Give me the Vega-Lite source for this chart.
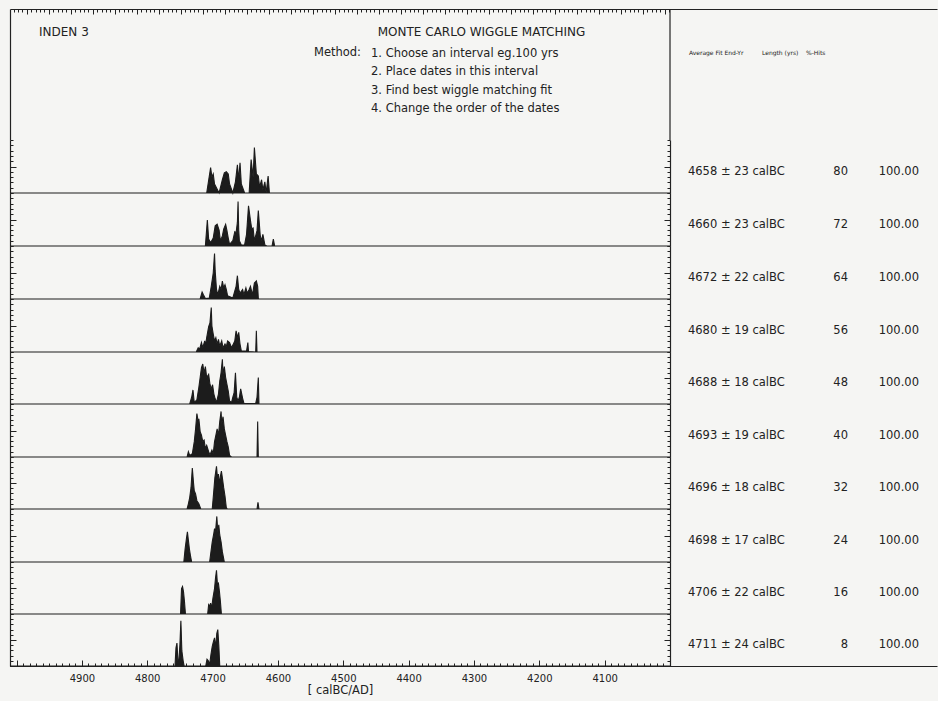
{
  "$schema": "https://vega.github.io/schema/vega-lite/v6.json",
  "background": "#f5f5f3",
  "padding": {"left": 7, "top": 8, "right": 2, "bottom": 5},
  "bounds": "flush",
  "spacing": 0,
  "datasets": {
    "dens": [
      {"run":1,"year":5010,"p":0},{"run":1,"year":4709,"p":0},{"run":1,"year":4703,"p":0.48},{"run":1,"year":4701,"p":0.3},{"run":1,"year":4699,"p":0.36},{"run":1,"year":4697,"p":0.17},{"run":1,"year":4690,"p":0},{"run":1,"year":4685,"p":0.25},{"run":1,"year":4682,"p":0.38},{"run":1,"year":4679,"p":0.4},{"run":1,"year":4676,"p":0.36},{"run":1,"year":4674,"p":0.17},{"run":1,"year":4669,"p":0},{"run":1,"year":4665,"p":0.21},{"run":1,"year":4662,"p":0.53},{"run":1,"year":4660,"p":0.25},{"run":1,"year":4658,"p":0.57},{"run":1,"year":4656,"p":0.17},{"run":1,"year":4651,"p":0},{"run":1,"year":4644,"p":0},{"run":1,"year":4641,"p":0.63},{"run":1,"year":4638,"p":0.3},{"run":1,"year":4636,"p":0.86},{"run":1,"year":4633,"p":0.36},{"run":1,"year":4630,"p":0.32},{"run":1,"year":4628,"p":0.11},{"run":1,"year":4625,"p":0.25},{"run":1,"year":4623,"p":0.06},{"run":1,"year":4620,"p":0.21},{"run":1,"year":4618,"p":0},{"run":1,"year":4615,"p":0.32},{"run":1,"year":4613,"p":0},{"run":1,"year":4000,"p":0},
      {"run":2,"year":5010,"p":0},{"run":2,"year":4711,"p":0},{"run":2,"year":4708,"p":0.49},{"run":2,"year":4706,"p":0.13},{"run":2,"year":4703,"p":0.06},{"run":2,"year":4699,"p":0.15},{"run":2,"year":4696,"p":0.38},{"run":2,"year":4693,"p":0.41},{"run":2,"year":4690,"p":0.3},{"run":2,"year":4688,"p":0.1},{"run":2,"year":4685,"p":0.19},{"run":2,"year":4683,"p":0.32},{"run":2,"year":4680,"p":0.41},{"run":2,"year":4678,"p":0.29},{"run":2,"year":4676,"p":0.15},{"run":2,"year":4674,"p":0.03},{"run":2,"year":4669,"p":0.1},{"run":2,"year":4666,"p":0.27},{"run":2,"year":4664,"p":0.25},{"run":2,"year":4662,"p":0.45},{"run":2,"year":4661,"p":0.84},{"run":2,"year":4660,"p":0.3},{"run":2,"year":4659,"p":0.1},{"run":2,"year":4656,"p":0.02},{"run":2,"year":4651,"p":0.02},{"run":2,"year":4648,"p":0.22},{"run":2,"year":4645,"p":0.76},{"run":2,"year":4642,"p":0.48},{"run":2,"year":4640,"p":0.32},{"run":2,"year":4638,"p":0.34},{"run":2,"year":4636,"p":0.1},{"run":2,"year":4632,"p":0.29},{"run":2,"year":4630,"p":0.67},{"run":2,"year":4627,"p":0.19},{"run":2,"year":4625,"p":0.1},{"run":2,"year":4623,"p":0.22},{"run":2,"year":4620,"p":0.02},{"run":2,"year":4617,"p":0},{"run":2,"year":4609,"p":0},{"run":2,"year":4607,"p":0.13},{"run":2,"year":4605,"p":0},{"run":2,"year":4000,"p":0},
      {"run":3,"year":5010,"p":0},{"run":3,"year":4719,"p":0},{"run":3,"year":4716,"p":0.13},{"run":3,"year":4714,"p":0.08},{"run":3,"year":4711,"p":0.01},{"run":3,"year":4705,"p":0.02},{"run":3,"year":4702,"p":0.24},{"run":3,"year":4699,"p":0.49},{"run":3,"year":4697,"p":0.86},{"run":3,"year":4696,"p":0.53},{"run":3,"year":4694,"p":0.18},{"run":3,"year":4692,"p":0.08},{"run":3,"year":4689,"p":0.24},{"run":3,"year":4687,"p":0.18},{"run":3,"year":4685,"p":0.34},{"run":3,"year":4683,"p":0.21},{"run":3,"year":4681,"p":0.27},{"run":3,"year":4679,"p":0.18},{"run":3,"year":4677,"p":0.06},{"run":3,"year":4669,"p":0.02},{"run":3,"year":4664,"p":0.24},{"run":3,"year":4662,"p":0.44},{"run":3,"year":4660,"p":0.18},{"run":3,"year":4658,"p":0.11},{"run":3,"year":4654,"p":0.18},{"run":3,"year":4652,"p":0.08},{"run":3,"year":4649,"p":0.21},{"run":3,"year":4647,"p":0.11},{"run":3,"year":4644,"p":0.18},{"run":3,"year":4642,"p":0.24},{"run":3,"year":4639,"p":0.08},{"run":3,"year":4636,"p":0.3},{"run":3,"year":4633,"p":0.34},{"run":3,"year":4631,"p":0.24},{"run":3,"year":4630,"p":0.01},{"run":3,"year":4629,"p":0},{"run":3,"year":4000,"p":0},
      {"run":4,"year":5010,"p":0},{"run":4,"year":4725,"p":0},{"run":4,"year":4722,"p":0.08},{"run":4,"year":4720,"p":0.05},{"run":4,"year":4717,"p":0.18},{"run":4,"year":4715,"p":0.08},{"run":4,"year":4712,"p":0.21},{"run":4,"year":4711,"p":0.11},{"run":4,"year":4709,"p":0.27},{"run":4,"year":4706,"p":0.48},{"run":4,"year":4704,"p":0.55},{"run":4,"year":4702,"p":0.84},{"run":4,"year":4701,"p":0.49},{"run":4,"year":4699,"p":0.34},{"run":4,"year":4697,"p":0.21},{"run":4,"year":4695,"p":0.27},{"run":4,"year":4693,"p":0.15},{"run":4,"year":4691,"p":0.24},{"run":4,"year":4689,"p":0.11},{"run":4,"year":4686,"p":0.21},{"run":4,"year":4684,"p":0.08},{"run":4,"year":4681,"p":0.15},{"run":4,"year":4679,"p":0.1},{"run":4,"year":4677,"p":0.21},{"run":4,"year":4674,"p":0.18},{"run":4,"year":4671,"p":0.08},{"run":4,"year":4669,"p":0.13},{"run":4,"year":4666,"p":0.21},{"run":4,"year":4664,"p":0.4},{"run":4,"year":4662,"p":0.27},{"run":4,"year":4660,"p":0.37},{"run":4,"year":4658,"p":0.15},{"run":4,"year":4656,"p":0.02},{"run":4,"year":4648,"p":0.02},{"run":4,"year":4646,"p":0.18},{"run":4,"year":4645,"p":0.01},{"run":4,"year":4634,"p":0},{"run":4,"year":4633,"p":0.4},{"run":4,"year":4632,"p":0},{"run":4,"year":4000,"p":0},
      {"run":5,"year":5010,"p":0},{"run":5,"year":4735,"p":0},{"run":5,"year":4732,"p":0.13},{"run":5,"year":4730,"p":0.27},{"run":5,"year":4728,"p":0.03},{"run":5,"year":4724,"p":0.08},{"run":5,"year":4721,"p":0.32},{"run":5,"year":4719,"p":0.51},{"run":5,"year":4717,"p":0.7},{"run":5,"year":4715,"p":0.77},{"run":5,"year":4713,"p":0.6},{"run":5,"year":4711,"p":0.72},{"run":5,"year":4709,"p":0.51},{"run":5,"year":4706,"p":0.57},{"run":5,"year":4704,"p":0.38},{"run":5,"year":4702,"p":0.29},{"run":5,"year":4700,"p":0.37},{"run":5,"year":4698,"p":0.19},{"run":5,"year":4696,"p":0.1},{"run":5,"year":4694,"p":0.03},{"run":5,"year":4691,"p":0.19},{"run":5,"year":4689,"p":0.44},{"run":5,"year":4687,"p":0.6},{"run":5,"year":4685,"p":0.86},{"run":5,"year":4684,"p":0.57},{"run":5,"year":4682,"p":0.72},{"run":5,"year":4680,"p":0.51},{"run":5,"year":4678,"p":0.38},{"run":5,"year":4676,"p":0.25},{"run":5,"year":4674,"p":0.06},{"run":5,"year":4671,"p":0.03},{"run":5,"year":4669,"p":0.13},{"run":5,"year":4667,"p":0.22},{"run":5,"year":4665,"p":0.6},{"run":5,"year":4663,"p":0.13},{"run":5,"year":4661,"p":0.06},{"run":5,"year":4659,"p":0.13},{"run":5,"year":4657,"p":0.29},{"run":5,"year":4654,"p":0.11},{"run":5,"year":4652,"p":0.01},{"run":5,"year":4634,"p":0.01},{"run":5,"year":4632,"p":0.13},{"run":5,"year":4630,"p":0.51},{"run":5,"year":4629,"p":0},{"run":5,"year":4000,"p":0},
      {"run":6,"year":5010,"p":0},{"run":6,"year":4739,"p":0},{"run":6,"year":4737,"p":0.1},{"run":6,"year":4735,"p":0.03},{"run":6,"year":4731,"p":0.06},{"run":6,"year":4728,"p":0.29},{"run":6,"year":4726,"p":0.53},{"run":6,"year":4724,"p":0.82},{"run":6,"year":4722,"p":0.67},{"run":6,"year":4721,"p":0.72},{"run":6,"year":4719,"p":0.48},{"run":6,"year":4717,"p":0.41},{"run":6,"year":4715,"p":0.29},{"run":6,"year":4713,"p":0.32},{"run":6,"year":4711,"p":0.16},{"run":6,"year":4709,"p":0.22},{"run":6,"year":4706,"p":0.1},{"run":6,"year":4704,"p":0.04},{"run":6,"year":4701,"p":0.13},{"run":6,"year":4699,"p":0.06},{"run":6,"year":4697,"p":0.29},{"run":6,"year":4695,"p":0.41},{"run":6,"year":4693,"p":0.53},{"run":6,"year":4691,"p":0.41},{"run":6,"year":4689,"p":0.67},{"run":6,"year":4687,"p":0.86},{"run":6,"year":4686,"p":0.63},{"run":6,"year":4684,"p":0.76},{"run":6,"year":4682,"p":0.53},{"run":6,"year":4680,"p":0.41},{"run":6,"year":4678,"p":0.29},{"run":6,"year":4676,"p":0.19},{"run":6,"year":4674,"p":0.03},{"run":6,"year":4671,"p":0},{"run":6,"year":4632,"p":0},{"run":6,"year":4631,"p":0.67},{"run":6,"year":4630,"p":0},{"run":6,"year":4000,"p":0},
      {"run":7,"year":5010,"p":0},{"run":7,"year":4739,"p":0},{"run":7,"year":4737,"p":0.1},{"run":7,"year":4735,"p":0.22},{"run":7,"year":4733,"p":0.41},{"run":7,"year":4731,"p":0.79},{"run":7,"year":4729,"p":0.48},{"run":7,"year":4728,"p":0.35},{"run":7,"year":4726,"p":0.29},{"run":7,"year":4724,"p":0.16},{"run":7,"year":4721,"p":0.1},{"run":7,"year":4718,"p":0},{"run":7,"year":4700.5,"p":0},{"run":7,"year":4698.5,"p":0.29},{"run":7,"year":4696.5,"p":0.6},{"run":7,"year":4694,"p":0.82},{"run":7,"year":4692.5,"p":0.6},{"run":7,"year":4691,"p":0.67},{"run":7,"year":4689.5,"p":0.48},{"run":7,"year":4688,"p":0.63},{"run":7,"year":4686.5,"p":0.73},{"run":7,"year":4685,"p":0.6},{"run":7,"year":4683,"p":0.41},{"run":7,"year":4681,"p":0.25},{"run":7,"year":4679,"p":0.03},{"run":7,"year":4677.5,"p":0},{"run":7,"year":4632,"p":0},{"run":7,"year":4630.5,"p":0.13},{"run":7,"year":4629,"p":0},{"run":7,"year":4000,"p":0},
      {"run":8,"year":5010,"p":0},{"run":8,"year":4744,"p":0},{"run":8,"year":4742,"p":0.25},{"run":8,"year":4740,"p":0.44},{"run":8,"year":4738.5,"p":0.57},{"run":8,"year":4737,"p":0.41},{"run":8,"year":4735.5,"p":0.25},{"run":8,"year":4734,"p":0.13},{"run":8,"year":4732,"p":0},{"run":8,"year":4704.5,"p":0},{"run":8,"year":4702.5,"p":0.19},{"run":8,"year":4700.5,"p":0.38},{"run":8,"year":4698.5,"p":0.51},{"run":8,"year":4697,"p":0.63},{"run":8,"year":4695.5,"p":0.57},{"run":8,"year":4693.5,"p":0.86},{"run":8,"year":4692,"p":0.57},{"run":8,"year":4690.5,"p":0.7},{"run":8,"year":4689,"p":0.51},{"run":8,"year":4687,"p":0.38},{"run":8,"year":4685,"p":0.19},{"run":8,"year":4682,"p":0},{"run":8,"year":4000,"p":0},
      {"run":9,"year":5010,"p":0},{"run":9,"year":4749,"p":0},{"run":9,"year":4747.5,"p":0.49},{"run":9,"year":4746,"p":0.53},{"run":9,"year":4744.5,"p":0.43},{"run":9,"year":4743,"p":0.24},{"run":9,"year":4741.5,"p":0},{"run":9,"year":4707.5,"p":0},{"run":9,"year":4706,"p":0.18},{"run":9,"year":4704.5,"p":0.15},{"run":9,"year":4703,"p":0.21},{"run":9,"year":4701.5,"p":0.11},{"run":9,"year":4699.5,"p":0.3},{"run":9,"year":4697,"p":0.49},{"run":9,"year":4695.5,"p":0.69},{"run":9,"year":4694,"p":0.84},{"run":9,"year":4692.5,"p":0.56},{"run":9,"year":4691,"p":0.59},{"run":9,"year":4689.5,"p":0.43},{"run":9,"year":4688,"p":0.24},{"run":9,"year":4686.5,"p":0},{"run":9,"year":4000,"p":0},
      {"run":10,"year":5010,"p":0},{"run":10,"year":4757.5,"p":0},{"run":10,"year":4756,"p":0.35},{"run":10,"year":4754.5,"p":0.44},{"run":10,"year":4753,"p":0.1},{"run":10,"year":4751.5,"p":0.1},{"run":10,"year":4750,"p":0.41},{"run":10,"year":4748.5,"p":0.87},{"run":10,"year":4747,"p":0.29},{"run":10,"year":4745,"p":0.1},{"run":10,"year":4743.5,"p":0},{"run":10,"year":4710.5,"p":0},{"run":10,"year":4708.5,"p":0.13},{"run":10,"year":4706.5,"p":0.1},{"run":10,"year":4704.5,"p":0.03},{"run":10,"year":4702.5,"p":0.22},{"run":10,"year":4700.5,"p":0.38},{"run":10,"year":4698.5,"p":0.48},{"run":10,"year":4697,"p":0.54},{"run":10,"year":4695.5,"p":0.35},{"run":10,"year":4693.5,"p":0.63},{"run":10,"year":4692,"p":0.7},{"run":10,"year":4690.5,"p":0.41},{"run":10,"year":4689,"p":0},{"run":10,"year":4000,"p":0}
    ],
    "table": [
      {"row":1,"fit":"4658 ± 23 calBC","length":80,"hits":100},
      {"row":2,"fit":"4660 ± 23 calBC","length":72,"hits":100},
      {"row":3,"fit":"4672 ± 22 calBC","length":64,"hits":100},
      {"row":4,"fit":"4680 ± 19 calBC","length":56,"hits":100},
      {"row":5,"fit":"4688 ± 18 calBC","length":48,"hits":100},
      {"row":6,"fit":"4693 ± 19 calBC","length":40,"hits":100},
      {"row":7,"fit":"4696 ± 18 calBC","length":32,"hits":100},
      {"row":8,"fit":"4698 ± 17 calBC","length":24,"hits":100},
      {"row":9,"fit":"4706 ± 22 calBC","length":16,"hits":100},
      {"row":10,"fit":"4711 ± 24 calBC","length":8,"hits":100}
    ],
    "frame": [{"hx": 100, "hy": 15}]
  },
  "vconcat": [
    {
      "width": 927, "height": 131,
      "resolve": {"axis": {"x": "independent", "y": "independent"}},
      "layer": [
        {"data": {"name": "frame"}, "mark": {"type": "point", "opacity": 0},
         "encoding": {
           "x": {"field": "hx", "type": "quantitative", "scale": {"domain": [1.2, 211.88], "nice": false, "zero": false},
                 "axis": {"orient": "top", "labels": false, "title": null, "grid": false, "domain": true,
                          "values": [2,3,4,5,6,7,8,9,10,11,12,13,14,15,16,17,18,19,20,21,22,23,24,25,26,27,28,29,30,31,32,33,34,35,36,37,38,39,40,41,42,43,44,45,46,47,48,49,50,51,52,53,54,55,56,57,58,59,60,61,62,63,64,65,66,67,68,69,70,71,72,73,74,75,76,77,78,79,80,81,82,83,84,85,86,87,88,89,90,91,92,93,94,95,96,97,98,99,100,101,102,103,104,105,106,107,108,109,110,111,112,113,114,115,116,117,118,119,120,121,122,123,124,125,126,127,128,129,130,131,132,133,134,135,136,137,138,139,140,141,142,143,144,145,146,147,148,149,150,151],
                          "tickSize": {"condition": {"test": "datum.value % 5 === 0", "value": -5}, "value": -3}}},
           "y": {"field": "hy", "type": "quantitative", "scale": {"domain": [0, 30], "reverse": true, "nice": false, "zero": false},
                 "axis": {"orient": "left", "ticks": false, "labels": false, "title": null, "grid": false, "domain": true}}
         }},
        {"data": {"values": [{}]}, "mark": {"type": "rule", "color": "#222", "strokeWidth": 1.2},
         "encoding": {"x": {"datum": 151.2, "type": "quantitative", "axis": null}}},
        {"data": {"values": [{}]}, "mark": {"type": "text", "align": "left", "baseline": "middle", "fontSize": 12},
         "encoding": {"x": {"datum": 7.79, "type": "quantitative", "axis": null}, "y": {"datum": 5.27, "type": "quantitative", "axis": null}, "text": {"value": "INDEN 3"}}},
        {"data": {"values": [{}]}, "mark": {"type": "text", "align": "center", "baseline": "middle", "fontSize": 12},
         "encoding": {"x": {"datum": 108.36, "type": "quantitative", "axis": null}, "y": {"datum": 5.27, "type": "quantitative", "axis": null}, "text": {"value": "MONTE CARLO WIGGLE MATCHING"}}},
        {"data": {"values": [{}]}, "mark": {"type": "text", "align": "right", "baseline": "middle", "fontSize": 11.5},
         "encoding": {"x": {"datum": 80.97, "type": "quantitative", "axis": null}, "y": {"datum": 10.0, "type": "quantitative", "axis": null}, "text": {"value": "Method:"}}},
        {"data": {"values": [{}]}, "mark": {"type": "text", "align": "left", "baseline": "top", "fontSize": 11.5, "lineHeight": 18.5},
         "encoding": {"x": {"datum": 83.25, "type": "quantitative", "axis": null}, "y": {"datum": 8.86, "type": "quantitative", "axis": null},
                      "text": {"value": ["1. Choose an interval eg.100 yrs", "2. Place dates in this interval", "3. Find best wiggle matching fit", "4. Change the order of the dates"]}}},
        {"data": {"values": [{}]}, "mark": {"type": "text", "align": "left", "baseline": "middle", "fontSize": 6},
         "encoding": {"x": {"datum": 155.5, "type": "quantitative", "axis": null}, "y": {"datum": 10.08, "type": "quantitative", "axis": null}, "text": {"value": "Average Fit End-Yr"}}},
        {"data": {"values": [{}]}, "mark": {"type": "text", "align": "left", "baseline": "middle", "fontSize": 6},
         "encoding": {"x": {"datum": 172.1, "type": "quantitative", "axis": null}, "y": {"datum": 10.08, "type": "quantitative", "axis": null}, "text": {"value": "Length (yrs)"}}},
        {"data": {"values": [{}]}, "mark": {"type": "text", "align": "left", "baseline": "middle", "fontSize": 6},
         "encoding": {"x": {"datum": 182.1, "type": "quantitative", "axis": null}, "y": {"datum": 10.08, "type": "quantitative", "axis": null}, "text": {"value": "%-Hits"}}}
      ]
    },
    {"width": 927, "height": 53, "resolve": {"axis": {"y": "independent"}}, "layer": [
      {"data": {"name": "dens"}, "transform": [{"filter": "datum.run === 1"}], "mark": {"type": "area", "fill": "#1c1c1c", "stroke": "#1c1c1c", "strokeWidth": 1.1},
       "encoding": {"x": {"field": "year", "type": "quantitative", "scale": {"domain": [3591.4, 5010], "reverse": true, "nice": false, "zero": false}, "axis": null},
                    "y": {"field": "p", "type": "quantitative", "stack": null, "scale": {"domain": [0, 1], "nice": false, "zero": false},
                          "axis": {"orient": "left", "values": [0,0.1,0.2,0.3,0.4,0.5,0.6,0.7,0.8,0.9,1], "tickSize": {"condition": {"test": "datum.value === 0.5", "value": -6}, "value": -3}, "labels": false, "title": null, "grid": false, "domain": true}}}},
      {"data": {"name": "dens"}, "transform": [{"filter": "datum.run === 1"}], "mark": {"type": "area", "opacity": 0},
       "encoding": {"x": {"field": "year", "type": "quantitative", "axis": null},
                    "y": {"field": "p", "type": "quantitative", "stack": null,
                          "axis": {"orient": "right", "offset": -267, "values": [0,0.1,0.2,0.3,0.4,0.5,0.6,0.7,0.8,0.9,1], "tickSize": {"condition": {"test": "datum.value === 0.5", "value": -6}, "value": -3}, "labels": false, "title": null, "grid": false, "domain": true}}}},
      {"data": {"name": "table"}, "transform": [{"filter": "datum.row === 1"}], "mark": {"type": "text", "align": "left", "baseline": "middle", "dy": 5, "fontSize": 11.5},
       "encoding": {"x": {"datum": 3972.5, "type": "quantitative", "axis": null}, "y": {"datum": 0.5, "type": "quantitative", "axis": null}, "text": {"field": "fit"}}},
      {"data": {"name": "table"}, "transform": [{"filter": "datum.row === 1"}], "mark": {"type": "text", "align": "right", "baseline": "middle", "dy": 5, "fontSize": 11.5},
       "encoding": {"x": {"datum": 3727.6, "type": "quantitative", "axis": null}, "y": {"datum": 0.5, "type": "quantitative", "axis": null}, "text": {"field": "length", "type": "quantitative", "format": "d"}}},
      {"data": {"name": "table"}, "transform": [{"filter": "datum.row === 1"}], "mark": {"type": "text", "align": "right", "baseline": "middle", "dy": 5, "fontSize": 11.5},
       "encoding": {"x": {"datum": 3619.0, "type": "quantitative", "axis": null}, "y": {"datum": 0.5, "type": "quantitative", "axis": null}, "text": {"field": "hits", "type": "quantitative", "format": ".2f"}}}
    ]},
    {"width": 927, "height": 53, "resolve": {"axis": {"y": "independent"}}, "layer": [
      {"data": {"name": "dens"}, "transform": [{"filter": "datum.run === 2"}], "mark": {"type": "area", "fill": "#1c1c1c", "stroke": "#1c1c1c", "strokeWidth": 1.1},
       "encoding": {"x": {"field": "year", "type": "quantitative", "scale": {"domain": [3591.4, 5010], "reverse": true, "nice": false, "zero": false}, "axis": null},
                    "y": {"field": "p", "type": "quantitative", "stack": null, "scale": {"domain": [0, 1], "nice": false, "zero": false},
                          "axis": {"orient": "left", "values": [0,0.1,0.2,0.3,0.4,0.5,0.6,0.7,0.8,0.9,1], "tickSize": {"condition": {"test": "datum.value === 0.5", "value": -6}, "value": -3}, "labels": false, "title": null, "grid": false, "domain": true}}}},
      {"data": {"name": "dens"}, "transform": [{"filter": "datum.run === 2"}], "mark": {"type": "area", "opacity": 0},
       "encoding": {"x": {"field": "year", "type": "quantitative", "axis": null},
                    "y": {"field": "p", "type": "quantitative", "stack": null,
                          "axis": {"orient": "right", "offset": -267, "values": [0,0.1,0.2,0.3,0.4,0.5,0.6,0.7,0.8,0.9,1], "tickSize": {"condition": {"test": "datum.value === 0.5", "value": -6}, "value": -3}, "labels": false, "title": null, "grid": false, "domain": true}}}},
      {"data": {"name": "table"}, "transform": [{"filter": "datum.row === 2"}], "mark": {"type": "text", "align": "left", "baseline": "middle", "dy": 5, "fontSize": 11.5},
       "encoding": {"x": {"datum": 3972.5, "type": "quantitative", "axis": null}, "y": {"datum": 0.5, "type": "quantitative", "axis": null}, "text": {"field": "fit"}}},
      {"data": {"name": "table"}, "transform": [{"filter": "datum.row === 2"}], "mark": {"type": "text", "align": "right", "baseline": "middle", "dy": 5, "fontSize": 11.5},
       "encoding": {"x": {"datum": 3727.6, "type": "quantitative", "axis": null}, "y": {"datum": 0.5, "type": "quantitative", "axis": null}, "text": {"field": "length", "type": "quantitative", "format": "d"}}},
      {"data": {"name": "table"}, "transform": [{"filter": "datum.row === 2"}], "mark": {"type": "text", "align": "right", "baseline": "middle", "dy": 5, "fontSize": 11.5},
       "encoding": {"x": {"datum": 3619.0, "type": "quantitative", "axis": null}, "y": {"datum": 0.5, "type": "quantitative", "axis": null}, "text": {"field": "hits", "type": "quantitative", "format": ".2f"}}}
    ]},
    {"width": 927, "height": 53, "resolve": {"axis": {"y": "independent"}}, "layer": [
      {"data": {"name": "dens"}, "transform": [{"filter": "datum.run === 3"}], "mark": {"type": "area", "fill": "#1c1c1c", "stroke": "#1c1c1c", "strokeWidth": 1.1},
       "encoding": {"x": {"field": "year", "type": "quantitative", "scale": {"domain": [3591.4, 5010], "reverse": true, "nice": false, "zero": false}, "axis": null},
                    "y": {"field": "p", "type": "quantitative", "stack": null, "scale": {"domain": [0, 1], "nice": false, "zero": false},
                          "axis": {"orient": "left", "values": [0,0.1,0.2,0.3,0.4,0.5,0.6,0.7,0.8,0.9,1], "tickSize": {"condition": {"test": "datum.value === 0.5", "value": -6}, "value": -3}, "labels": false, "title": null, "grid": false, "domain": true}}}},
      {"data": {"name": "dens"}, "transform": [{"filter": "datum.run === 3"}], "mark": {"type": "area", "opacity": 0},
       "encoding": {"x": {"field": "year", "type": "quantitative", "axis": null},
                    "y": {"field": "p", "type": "quantitative", "stack": null,
                          "axis": {"orient": "right", "offset": -267, "values": [0,0.1,0.2,0.3,0.4,0.5,0.6,0.7,0.8,0.9,1], "tickSize": {"condition": {"test": "datum.value === 0.5", "value": -6}, "value": -3}, "labels": false, "title": null, "grid": false, "domain": true}}}},
      {"data": {"name": "table"}, "transform": [{"filter": "datum.row === 3"}], "mark": {"type": "text", "align": "left", "baseline": "middle", "dy": 5, "fontSize": 11.5},
       "encoding": {"x": {"datum": 3972.5, "type": "quantitative", "axis": null}, "y": {"datum": 0.5, "type": "quantitative", "axis": null}, "text": {"field": "fit"}}},
      {"data": {"name": "table"}, "transform": [{"filter": "datum.row === 3"}], "mark": {"type": "text", "align": "right", "baseline": "middle", "dy": 5, "fontSize": 11.5},
       "encoding": {"x": {"datum": 3727.6, "type": "quantitative", "axis": null}, "y": {"datum": 0.5, "type": "quantitative", "axis": null}, "text": {"field": "length", "type": "quantitative", "format": "d"}}},
      {"data": {"name": "table"}, "transform": [{"filter": "datum.row === 3"}], "mark": {"type": "text", "align": "right", "baseline": "middle", "dy": 5, "fontSize": 11.5},
       "encoding": {"x": {"datum": 3619.0, "type": "quantitative", "axis": null}, "y": {"datum": 0.5, "type": "quantitative", "axis": null}, "text": {"field": "hits", "type": "quantitative", "format": ".2f"}}}
    ]},
    {"width": 927, "height": 53, "resolve": {"axis": {"y": "independent"}}, "layer": [
      {"data": {"name": "dens"}, "transform": [{"filter": "datum.run === 4"}], "mark": {"type": "area", "fill": "#1c1c1c", "stroke": "#1c1c1c", "strokeWidth": 1.1},
       "encoding": {"x": {"field": "year", "type": "quantitative", "scale": {"domain": [3591.4, 5010], "reverse": true, "nice": false, "zero": false}, "axis": null},
                    "y": {"field": "p", "type": "quantitative", "stack": null, "scale": {"domain": [0, 1], "nice": false, "zero": false},
                          "axis": {"orient": "left", "values": [0,0.1,0.2,0.3,0.4,0.5,0.6,0.7,0.8,0.9,1], "tickSize": {"condition": {"test": "datum.value === 0.5", "value": -6}, "value": -3}, "labels": false, "title": null, "grid": false, "domain": true}}}},
      {"data": {"name": "dens"}, "transform": [{"filter": "datum.run === 4"}], "mark": {"type": "area", "opacity": 0},
       "encoding": {"x": {"field": "year", "type": "quantitative", "axis": null},
                    "y": {"field": "p", "type": "quantitative", "stack": null,
                          "axis": {"orient": "right", "offset": -267, "values": [0,0.1,0.2,0.3,0.4,0.5,0.6,0.7,0.8,0.9,1], "tickSize": {"condition": {"test": "datum.value === 0.5", "value": -6}, "value": -3}, "labels": false, "title": null, "grid": false, "domain": true}}}},
      {"data": {"name": "table"}, "transform": [{"filter": "datum.row === 4"}], "mark": {"type": "text", "align": "left", "baseline": "middle", "dy": 5, "fontSize": 11.5},
       "encoding": {"x": {"datum": 3972.5, "type": "quantitative", "axis": null}, "y": {"datum": 0.5, "type": "quantitative", "axis": null}, "text": {"field": "fit"}}},
      {"data": {"name": "table"}, "transform": [{"filter": "datum.row === 4"}], "mark": {"type": "text", "align": "right", "baseline": "middle", "dy": 5, "fontSize": 11.5},
       "encoding": {"x": {"datum": 3727.6, "type": "quantitative", "axis": null}, "y": {"datum": 0.5, "type": "quantitative", "axis": null}, "text": {"field": "length", "type": "quantitative", "format": "d"}}},
      {"data": {"name": "table"}, "transform": [{"filter": "datum.row === 4"}], "mark": {"type": "text", "align": "right", "baseline": "middle", "dy": 5, "fontSize": 11.5},
       "encoding": {"x": {"datum": 3619.0, "type": "quantitative", "axis": null}, "y": {"datum": 0.5, "type": "quantitative", "axis": null}, "text": {"field": "hits", "type": "quantitative", "format": ".2f"}}}
    ]},
    {"width": 927, "height": 52, "resolve": {"axis": {"y": "independent"}}, "layer": [
      {"data": {"name": "dens"}, "transform": [{"filter": "datum.run === 5"}], "mark": {"type": "area", "fill": "#1c1c1c", "stroke": "#1c1c1c", "strokeWidth": 1.1},
       "encoding": {"x": {"field": "year", "type": "quantitative", "scale": {"domain": [3591.4, 5010], "reverse": true, "nice": false, "zero": false}, "axis": null},
                    "y": {"field": "p", "type": "quantitative", "stack": null, "scale": {"domain": [0, 1], "nice": false, "zero": false},
                          "axis": {"orient": "left", "values": [0,0.1,0.2,0.3,0.4,0.5,0.6,0.7,0.8,0.9,1], "tickSize": {"condition": {"test": "datum.value === 0.5", "value": -6}, "value": -3}, "labels": false, "title": null, "grid": false, "domain": true}}}},
      {"data": {"name": "dens"}, "transform": [{"filter": "datum.run === 5"}], "mark": {"type": "area", "opacity": 0},
       "encoding": {"x": {"field": "year", "type": "quantitative", "axis": null},
                    "y": {"field": "p", "type": "quantitative", "stack": null,
                          "axis": {"orient": "right", "offset": -267, "values": [0,0.1,0.2,0.3,0.4,0.5,0.6,0.7,0.8,0.9,1], "tickSize": {"condition": {"test": "datum.value === 0.5", "value": -6}, "value": -3}, "labels": false, "title": null, "grid": false, "domain": true}}}},
      {"data": {"name": "table"}, "transform": [{"filter": "datum.row === 5"}], "mark": {"type": "text", "align": "left", "baseline": "middle", "dy": 5, "fontSize": 11.5},
       "encoding": {"x": {"datum": 3972.5, "type": "quantitative", "axis": null}, "y": {"datum": 0.5, "type": "quantitative", "axis": null}, "text": {"field": "fit"}}},
      {"data": {"name": "table"}, "transform": [{"filter": "datum.row === 5"}], "mark": {"type": "text", "align": "right", "baseline": "middle", "dy": 5, "fontSize": 11.5},
       "encoding": {"x": {"datum": 3727.6, "type": "quantitative", "axis": null}, "y": {"datum": 0.5, "type": "quantitative", "axis": null}, "text": {"field": "length", "type": "quantitative", "format": "d"}}},
      {"data": {"name": "table"}, "transform": [{"filter": "datum.row === 5"}], "mark": {"type": "text", "align": "right", "baseline": "middle", "dy": 5, "fontSize": 11.5},
       "encoding": {"x": {"datum": 3619.0, "type": "quantitative", "axis": null}, "y": {"datum": 0.5, "type": "quantitative", "axis": null}, "text": {"field": "hits", "type": "quantitative", "format": ".2f"}}}
    ]},
    {"width": 927, "height": 53, "resolve": {"axis": {"y": "independent"}}, "layer": [
      {"data": {"name": "dens"}, "transform": [{"filter": "datum.run === 6"}], "mark": {"type": "area", "fill": "#1c1c1c", "stroke": "#1c1c1c", "strokeWidth": 1.1},
       "encoding": {"x": {"field": "year", "type": "quantitative", "scale": {"domain": [3591.4, 5010], "reverse": true, "nice": false, "zero": false}, "axis": null},
                    "y": {"field": "p", "type": "quantitative", "stack": null, "scale": {"domain": [0, 1], "nice": false, "zero": false},
                          "axis": {"orient": "left", "values": [0,0.1,0.2,0.3,0.4,0.5,0.6,0.7,0.8,0.9,1], "tickSize": {"condition": {"test": "datum.value === 0.5", "value": -6}, "value": -3}, "labels": false, "title": null, "grid": false, "domain": true}}}},
      {"data": {"name": "dens"}, "transform": [{"filter": "datum.run === 6"}], "mark": {"type": "area", "opacity": 0},
       "encoding": {"x": {"field": "year", "type": "quantitative", "axis": null},
                    "y": {"field": "p", "type": "quantitative", "stack": null,
                          "axis": {"orient": "right", "offset": -267, "values": [0,0.1,0.2,0.3,0.4,0.5,0.6,0.7,0.8,0.9,1], "tickSize": {"condition": {"test": "datum.value === 0.5", "value": -6}, "value": -3}, "labels": false, "title": null, "grid": false, "domain": true}}}},
      {"data": {"name": "table"}, "transform": [{"filter": "datum.row === 6"}], "mark": {"type": "text", "align": "left", "baseline": "middle", "dy": 5, "fontSize": 11.5},
       "encoding": {"x": {"datum": 3972.5, "type": "quantitative", "axis": null}, "y": {"datum": 0.5, "type": "quantitative", "axis": null}, "text": {"field": "fit"}}},
      {"data": {"name": "table"}, "transform": [{"filter": "datum.row === 6"}], "mark": {"type": "text", "align": "right", "baseline": "middle", "dy": 5, "fontSize": 11.5},
       "encoding": {"x": {"datum": 3727.6, "type": "quantitative", "axis": null}, "y": {"datum": 0.5, "type": "quantitative", "axis": null}, "text": {"field": "length", "type": "quantitative", "format": "d"}}},
      {"data": {"name": "table"}, "transform": [{"filter": "datum.row === 6"}], "mark": {"type": "text", "align": "right", "baseline": "middle", "dy": 5, "fontSize": 11.5},
       "encoding": {"x": {"datum": 3619.0, "type": "quantitative", "axis": null}, "y": {"datum": 0.5, "type": "quantitative", "axis": null}, "text": {"field": "hits", "type": "quantitative", "format": ".2f"}}}
    ]},
    {"width": 927, "height": 52, "resolve": {"axis": {"y": "independent"}}, "layer": [
      {"data": {"name": "dens"}, "transform": [{"filter": "datum.run === 7"}], "mark": {"type": "area", "fill": "#1c1c1c", "stroke": "#1c1c1c", "strokeWidth": 1.1},
       "encoding": {"x": {"field": "year", "type": "quantitative", "scale": {"domain": [3591.4, 5010], "reverse": true, "nice": false, "zero": false}, "axis": null},
                    "y": {"field": "p", "type": "quantitative", "stack": null, "scale": {"domain": [0, 1], "nice": false, "zero": false},
                          "axis": {"orient": "left", "values": [0,0.1,0.2,0.3,0.4,0.5,0.6,0.7,0.8,0.9,1], "tickSize": {"condition": {"test": "datum.value === 0.5", "value": -6}, "value": -3}, "labels": false, "title": null, "grid": false, "domain": true}}}},
      {"data": {"name": "dens"}, "transform": [{"filter": "datum.run === 7"}], "mark": {"type": "area", "opacity": 0},
       "encoding": {"x": {"field": "year", "type": "quantitative", "axis": null},
                    "y": {"field": "p", "type": "quantitative", "stack": null,
                          "axis": {"orient": "right", "offset": -267, "values": [0,0.1,0.2,0.3,0.4,0.5,0.6,0.7,0.8,0.9,1], "tickSize": {"condition": {"test": "datum.value === 0.5", "value": -6}, "value": -3}, "labels": false, "title": null, "grid": false, "domain": true}}}},
      {"data": {"name": "table"}, "transform": [{"filter": "datum.row === 7"}], "mark": {"type": "text", "align": "left", "baseline": "middle", "dy": 5, "fontSize": 11.5},
       "encoding": {"x": {"datum": 3972.5, "type": "quantitative", "axis": null}, "y": {"datum": 0.5, "type": "quantitative", "axis": null}, "text": {"field": "fit"}}},
      {"data": {"name": "table"}, "transform": [{"filter": "datum.row === 7"}], "mark": {"type": "text", "align": "right", "baseline": "middle", "dy": 5, "fontSize": 11.5},
       "encoding": {"x": {"datum": 3727.6, "type": "quantitative", "axis": null}, "y": {"datum": 0.5, "type": "quantitative", "axis": null}, "text": {"field": "length", "type": "quantitative", "format": "d"}}},
      {"data": {"name": "table"}, "transform": [{"filter": "datum.row === 7"}], "mark": {"type": "text", "align": "right", "baseline": "middle", "dy": 5, "fontSize": 11.5},
       "encoding": {"x": {"datum": 3619.0, "type": "quantitative", "axis": null}, "y": {"datum": 0.5, "type": "quantitative", "axis": null}, "text": {"field": "hits", "type": "quantitative", "format": ".2f"}}}
    ]},
    {"width": 927, "height": 53, "resolve": {"axis": {"y": "independent"}}, "layer": [
      {"data": {"name": "dens"}, "transform": [{"filter": "datum.run === 8"}], "mark": {"type": "area", "fill": "#1c1c1c", "stroke": "#1c1c1c", "strokeWidth": 1.1},
       "encoding": {"x": {"field": "year", "type": "quantitative", "scale": {"domain": [3591.4, 5010], "reverse": true, "nice": false, "zero": false}, "axis": null},
                    "y": {"field": "p", "type": "quantitative", "stack": null, "scale": {"domain": [0, 1], "nice": false, "zero": false},
                          "axis": {"orient": "left", "values": [0,0.1,0.2,0.3,0.4,0.5,0.6,0.7,0.8,0.9,1], "tickSize": {"condition": {"test": "datum.value === 0.5", "value": -6}, "value": -3}, "labels": false, "title": null, "grid": false, "domain": true}}}},
      {"data": {"name": "dens"}, "transform": [{"filter": "datum.run === 8"}], "mark": {"type": "area", "opacity": 0},
       "encoding": {"x": {"field": "year", "type": "quantitative", "axis": null},
                    "y": {"field": "p", "type": "quantitative", "stack": null,
                          "axis": {"orient": "right", "offset": -267, "values": [0,0.1,0.2,0.3,0.4,0.5,0.6,0.7,0.8,0.9,1], "tickSize": {"condition": {"test": "datum.value === 0.5", "value": -6}, "value": -3}, "labels": false, "title": null, "grid": false, "domain": true}}}},
      {"data": {"name": "table"}, "transform": [{"filter": "datum.row === 8"}], "mark": {"type": "text", "align": "left", "baseline": "middle", "dy": 5, "fontSize": 11.5},
       "encoding": {"x": {"datum": 3972.5, "type": "quantitative", "axis": null}, "y": {"datum": 0.5, "type": "quantitative", "axis": null}, "text": {"field": "fit"}}},
      {"data": {"name": "table"}, "transform": [{"filter": "datum.row === 8"}], "mark": {"type": "text", "align": "right", "baseline": "middle", "dy": 5, "fontSize": 11.5},
       "encoding": {"x": {"datum": 3727.6, "type": "quantitative", "axis": null}, "y": {"datum": 0.5, "type": "quantitative", "axis": null}, "text": {"field": "length", "type": "quantitative", "format": "d"}}},
      {"data": {"name": "table"}, "transform": [{"filter": "datum.row === 8"}], "mark": {"type": "text", "align": "right", "baseline": "middle", "dy": 5, "fontSize": 11.5},
       "encoding": {"x": {"datum": 3619.0, "type": "quantitative", "axis": null}, "y": {"datum": 0.5, "type": "quantitative", "axis": null}, "text": {"field": "hits", "type": "quantitative", "format": ".2f"}}}
    ]},
    {"width": 927, "height": 52, "resolve": {"axis": {"y": "independent"}}, "layer": [
      {"data": {"name": "dens"}, "transform": [{"filter": "datum.run === 9"}], "mark": {"type": "area", "fill": "#1c1c1c", "stroke": "#1c1c1c", "strokeWidth": 1.1},
       "encoding": {"x": {"field": "year", "type": "quantitative", "scale": {"domain": [3591.4, 5010], "reverse": true, "nice": false, "zero": false}, "axis": null},
                    "y": {"field": "p", "type": "quantitative", "stack": null, "scale": {"domain": [0, 1], "nice": false, "zero": false},
                          "axis": {"orient": "left", "values": [0,0.1,0.2,0.3,0.4,0.5,0.6,0.7,0.8,0.9,1], "tickSize": {"condition": {"test": "datum.value === 0.5", "value": -6}, "value": -3}, "labels": false, "title": null, "grid": false, "domain": true}}}},
      {"data": {"name": "dens"}, "transform": [{"filter": "datum.run === 9"}], "mark": {"type": "area", "opacity": 0},
       "encoding": {"x": {"field": "year", "type": "quantitative", "axis": null},
                    "y": {"field": "p", "type": "quantitative", "stack": null,
                          "axis": {"orient": "right", "offset": -267, "values": [0,0.1,0.2,0.3,0.4,0.5,0.6,0.7,0.8,0.9,1], "tickSize": {"condition": {"test": "datum.value === 0.5", "value": -6}, "value": -3}, "labels": false, "title": null, "grid": false, "domain": true}}}},
      {"data": {"name": "table"}, "transform": [{"filter": "datum.row === 9"}], "mark": {"type": "text", "align": "left", "baseline": "middle", "dy": 5, "fontSize": 11.5},
       "encoding": {"x": {"datum": 3972.5, "type": "quantitative", "axis": null}, "y": {"datum": 0.5, "type": "quantitative", "axis": null}, "text": {"field": "fit"}}},
      {"data": {"name": "table"}, "transform": [{"filter": "datum.row === 9"}], "mark": {"type": "text", "align": "right", "baseline": "middle", "dy": 5, "fontSize": 11.5},
       "encoding": {"x": {"datum": 3727.6, "type": "quantitative", "axis": null}, "y": {"datum": 0.5, "type": "quantitative", "axis": null}, "text": {"field": "length", "type": "quantitative", "format": "d"}}},
      {"data": {"name": "table"}, "transform": [{"filter": "datum.row === 9"}], "mark": {"type": "text", "align": "right", "baseline": "middle", "dy": 5, "fontSize": 11.5},
       "encoding": {"x": {"datum": 3619.0, "type": "quantitative", "axis": null}, "y": {"datum": 0.5, "type": "quantitative", "axis": null}, "text": {"field": "hits", "type": "quantitative", "format": ".2f"}}}
    ]},
    {"width": 927, "height": 52, "resolve": {"axis": {"x": "independent", "y": "independent"}}, "layer": [
      {"data": {"name": "dens"}, "transform": [{"filter": "datum.run === 10"}], "mark": {"type": "area", "fill": "#1c1c1c", "stroke": "#1c1c1c", "strokeWidth": 1.1},
       "encoding": {"x": {"field": "year", "type": "quantitative", "scale": {"domain": [3591.4, 5010], "reverse": true, "nice": false, "zero": false},
                          "axis": {"orient": "bottom", "format": "d",
                                   "values": [4000,4010,4020,4030,4040,4050,4060,4070,4080,4090,4100,4110,4120,4130,4140,4150,4160,4170,4180,4190,4200,4210,4220,4230,4240,4250,4260,4270,4280,4290,4300,4310,4320,4330,4340,4350,4360,4370,4380,4390,4400,4410,4420,4430,4440,4450,4460,4470,4480,4490,4500,4510,4520,4530,4540,4550,4560,4570,4580,4590,4600,4610,4620,4630,4640,4650,4660,4670,4680,4690,4700,4710,4720,4730,4740,4750,4760,4770,4780,4790,4800,4810,4820,4830,4840,4850,4860,4870,4880,4890,4900,4910,4920,4930,4940,4950,4960,4970,4980,4990,5000,5010],
                                   "tickSize": {"condition": {"test": "datum.value % 100 === 0", "value": -6}, "value": -3},
                                   "labelExpr": "datum.value % 100 === 0 && datum.value > 4000 && datum.value < 5000 ? datum.label : ''",
                                   "labelOverlap": false, "labelFlush": false, "labelBound": false,
                                   "labelFontSize": 10, "labelPadding": 13,
                                   "title": "[ calBC/AD]", "titleX": 330, "titleAlign": "center", "titleFontSize": 11.5, "titleFontWeight": "normal", "titlePadding": -2,
                                   "grid": false, "domain": true}},
                    "y": {"field": "p", "type": "quantitative", "stack": null, "scale": {"domain": [0, 1], "nice": false, "zero": false},
                          "axis": {"orient": "left", "values": [0,0.1,0.2,0.3,0.4,0.5,0.6,0.7,0.8,0.9,1], "tickSize": {"condition": {"test": "datum.value === 0.5", "value": -6}, "value": -3}, "labels": false, "title": null, "grid": false, "domain": true}}}},
      {"data": {"name": "dens"}, "transform": [{"filter": "datum.run === 10"}], "mark": {"type": "area", "opacity": 0},
       "encoding": {"x": {"field": "year", "type": "quantitative", "axis": null},
                    "y": {"field": "p", "type": "quantitative", "stack": null,
                          "axis": {"orient": "right", "offset": -267, "values": [0,0.1,0.2,0.3,0.4,0.5,0.6,0.7,0.8,0.9,1], "tickSize": {"condition": {"test": "datum.value === 0.5", "value": -6}, "value": -3}, "labels": false, "title": null, "grid": false, "domain": true}}}},
      {"data": {"name": "table"}, "transform": [{"filter": "datum.row === 10"}], "mark": {"type": "text", "align": "left", "baseline": "middle", "dy": 5, "fontSize": 11.5},
       "encoding": {"x": {"datum": 3972.5, "type": "quantitative", "axis": null}, "y": {"datum": 0.5, "type": "quantitative", "axis": null}, "text": {"field": "fit"}}},
      {"data": {"name": "table"}, "transform": [{"filter": "datum.row === 10"}], "mark": {"type": "text", "align": "right", "baseline": "middle", "dy": 5, "fontSize": 11.5},
       "encoding": {"x": {"datum": 3727.6, "type": "quantitative", "axis": null}, "y": {"datum": 0.5, "type": "quantitative", "axis": null}, "text": {"field": "length", "type": "quantitative", "format": "d"}}},
      {"data": {"name": "table"}, "transform": [{"filter": "datum.row === 10"}], "mark": {"type": "text", "align": "right", "baseline": "middle", "dy": 5, "fontSize": 11.5},
       "encoding": {"x": {"datum": 3619.0, "type": "quantitative", "axis": null}, "y": {"datum": 0.5, "type": "quantitative", "axis": null}, "text": {"field": "hits", "type": "quantitative", "format": ".2f"}}}
    ]}
  ],
  "config": {
    "font": "DejaVu Sans",
    "view": {"stroke": null},
    "text": {"color": "#222", "font": "DejaVu Sans"},
    "axis": {"domainColor": "#222", "tickColor": "#222", "labelColor": "#222", "titleColor": "#222",
             "labelFont": "DejaVu Sans", "titleFont": "DejaVu Sans", "domainWidth": 1.2, "tickWidth": 1}
  }
}
